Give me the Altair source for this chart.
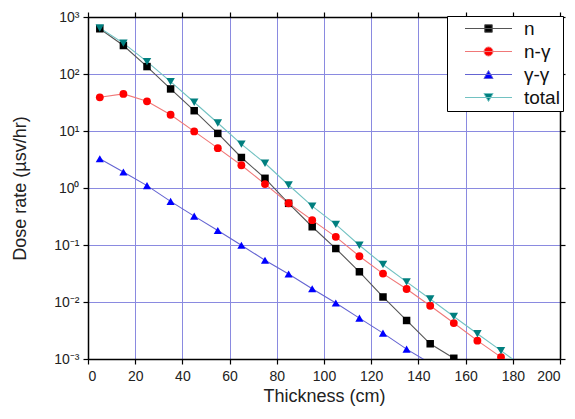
import altair as alt
import pandas as pd

# ---- data ----
thickness = [5, 15, 25, 35, 45, 55, 65, 75, 85, 95, 105, 115, 125, 135, 145, 155, 165, 175, 185]
series_names = ["n", "n-γ", "γ-γ", "total"]

dose_n = [622, 316, 135, 54.7, 22.7, 9.07, 3.43, 1.48, 0.538, 0.209, 0.0867, 0.0339,
          0.01225, 0.00474, 0.00185, 0.00103]
dose_n_gamma = [39, 44.7, 33.2, 19.3, 9.84, 5.0, 2.51, 1.17, 0.54, 0.273, 0.139, 0.0635,
                0.0315, 0.0169, 0.0086, 0.00427, 0.0021, 0.00108, 0.00054]
dose_gamma_gamma = [3.25, 1.91, 1.1, 0.583, 0.321, 0.18, 0.099, 0.054, 0.0311, 0.0171,
                    0.0096, 0.00522, 0.00284, 0.00149, 0.00084]
dose_total = [640, 348, 165, 73.5, 31.9, 13.8, 5.88, 2.72, 1.13, 0.482, 0.23, 0.099,
              0.0454, 0.0225, 0.0113, 0.00558, 0.00277, 0.0014, 0.0007]

x_ticks = [0, 20, 40, 60, 80, 100, 120, 140, 160, 180, 200]
y_ticks = [0.001, 0.01, 0.1, 1, 10, 100, 1000]

# ---- styles ----
marker_colors = ["#000000", "#ff0000", "#0000ff", "#007f7f"]
line_colors = ["#555555", "#f07878", "#6464d2", "#72c2c2"]
marker_shapes = ["square", "circle", "triangle-up", "triangle-down"]
legend_shapes = [
    "M-4.7,0H4.7M-0.75,-0.75H0.75V0.75H-0.75Z",
    "M-4.7,0H4.7M-0.9,0A0.9,0.9,0,1,0,0.9,0A0.9,0.9,0,1,0,-0.9,0Z",
    "M-4.7,0H4.7M0,-0.8L0.92,0.8L-0.92,0.8Z",
    "M-4.7,0H4.7M0,0.8L0.92,-0.8L-0.92,-0.8Z",
]

rows = []
for name, vals in zip(series_names, [dose_n, dose_n_gamma, dose_gamma_gamma, dose_total]):
    for t, v in zip(thickness, vals):
        rows.append({"thickness": t, "dose": v, "series": name})
df = pd.DataFrame(rows)

xscale = alt.Scale(domain=[0, 200], nice=False)
yscale = alt.Scale(type="log", domain=[0.001, 1000], nice=False)

sup_expr = "'10' + ['⁻³','⁻²','⁻¹','⁰','¹','²','³'][round(log(datum.value)/LN10) + 3]"

base = alt.Chart(df)

lines = base.mark_line(clip=True, strokeWidth=1.1).encode(
    x=alt.X("thickness:Q", scale=xscale,
            axis=alt.Axis(values=x_ticks, title="Thickness (cm)", grid=True,
                          labelPadding=5, titlePadding=4)),
    y=alt.Y("dose:Q", scale=yscale,
            axis=alt.Axis(values=y_ticks, title="Dose rate (µsv/hr)", grid=True,
                          labelExpr=sup_expr, labelPadding=4, titlePadding=24)),
    color=alt.Color("series:N", scale=alt.Scale(domain=series_names, range=line_colors),
                    legend=None),
    detail="series:N",
)

points = base.mark_point(filled=True, clip=True, opacity=1, strokeWidth=0.5).encode(
    x=alt.X("thickness:Q", scale=xscale,
            axis=alt.Axis(orient="top", values=x_ticks, labels=False, title=None, grid=False)),
    y=alt.Y("dose:Q", scale=yscale,
            axis=alt.Axis(orient="right", values=y_ticks, labels=False, title=None, grid=False)),
    color=alt.Color("series:N", scale=alt.Scale(domain=series_names, range=marker_colors),
                    legend=None),
    shape=alt.Shape("series:N", scale=alt.Scale(domain=series_names, range=marker_shapes),
                    legend=None),
    size=alt.Size("series:N", scale=alt.Scale(domain=series_names, range=[56, 72, 80, 85]),
                  legend=None),
)

legend_layer = base.transform_filter("datum.thickness < 0").mark_point(
    filled=True, strokeWidth=1
).encode(
    x=alt.X("thickness:Q", scale=xscale, axis=None),
    y=alt.Y("dose:Q", scale=yscale, axis=None),
    fill=alt.Fill("series:N", scale=alt.Scale(domain=series_names, range=marker_colors),
                  legend=alt.Legend(title=None)),
    stroke=alt.Stroke("series:N", scale=alt.Scale(domain=series_names, range=line_colors),
                      legend=alt.Legend(title=None)),
    shape=alt.Shape("series:N", scale=alt.Scale(domain=series_names, range=legend_shapes),
                    legend=alt.Legend(title=None)),
)

chart = alt.layer(lines, points, legend_layer).resolve_scale(
    color="independent", shape="independent", fill="independent", stroke="independent",
    size="independent"
).resolve_axis(x="independent", y="independent").properties(
    width=472, height=342,
    autosize=alt.AutoSizeParams(type="none"),
    padding={"left": 80, "top": 9, "right": 7, "bottom": 50},
).configure_view(
    stroke="black", strokeWidth=1
).configure_axis(
    domainColor="black", domainWidth=1.5, tickColor="black", tickWidth=1.2, tickSize=5,
    gridColor="#8a8ae0", gridWidth=1, gridOpacity=1,
    labelFont="Liberation Sans", labelFontSize=14, labelColor="#222222",
    titleFont="Liberation Sans", titleFontSize=18, titleFontWeight="normal", titleColor="#222222",
).configure_legend(
    orient="none", legendX=359, legendY=-1,
    strokeColor="black", fillColor="white", padding=3, cornerRadius=0,
    labelFont="Liberation Sans", labelFontSize=19, labelColor="#111111",
    symbolSize=100, symbolOffset=29, labelOffset=26, rowPadding=3,
    symbolStrokeWidth=1, symbolOpacity=1,
)

chart.save("out.html", embed_options={"renderer": "svg", "actions": False})
